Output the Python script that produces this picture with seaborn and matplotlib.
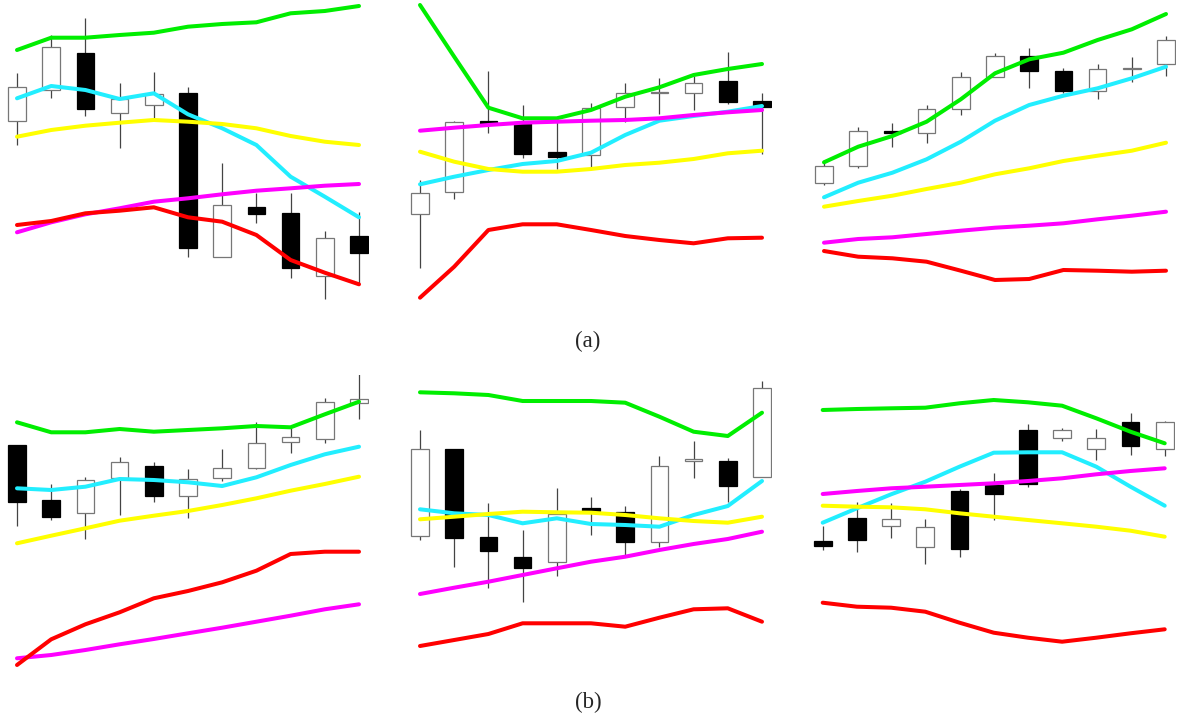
import numpy as np
import matplotlib
matplotlib.use("Agg")
import matplotlib.pyplot as plt
import seaborn as sns

# ---- panel (a) left ----
a1_open = [179, 210, 247.3, 186.7, 195, 206.7, 42.7, 92.7, 87.3, 24.3, 64]
a1_close = [213.3, 253.3, 190.7, 201, 205.7, 51.7, 94.7, 86, 32.3, 61.7, 47.3]
a1_high = [227.3, 265, 282.3, 216.7, 228.3, 213.3, 136.7, 107.3, 107.3, 69, 88.3]
a1_low = [155, 201.7, 184.3, 152.3, 181.7, 43.3, 42.7, 76.7, 22.3, 1, 16.7]
a1_green = [250, 262.3, 262.3, 265, 267.3, 273.3, 276, 277.7, 286.7, 289, 294]
a1_cyan = [201.7, 214, 210, 201, 206.7, 185.7, 171.7, 155, 123.3, 103.3, 82.7]
a1_yellow = [163.3, 170, 174.3, 177.3, 180, 178.3, 176, 171.7, 164, 158.3, 155]
a1_magenta = [67.7, 77.7, 85.7, 91.7, 98.3, 101.7, 105.7, 109.3, 111.7, 114.3, 116]
a1_red = [75, 79, 86.7, 89.3, 92.7, 82.7, 78.3, 65, 40, 27.3, 15.7]

# ---- panel (a) middle ----
a2_open = [85.7, 107.7, 179.3, 178.3, 148.3, 145, 192.7, 206.7, 207.3, 219.3, 199]
a2_close = [107.3, 177.7, 176, 146, 143.3, 191.7, 206.7, 208.3, 216.7, 198.3, 193.3]
a2_high = [120, 179.3, 229, 195, 183.3, 197.3, 216.7, 221.7, 224, 247.7, 207.3]
a2_low = [32.3, 101, 166.7, 141.7, 130.7, 133.3, 177.7, 186, 190, 195.7, 146]
a2_green = [295, 243.3, 192.3, 181.7, 181.7, 190, 203.3, 212.7, 225, 231, 236]
a2_cyan = [115.7, 123.3, 130, 136, 139, 147.3, 165, 179.3, 184, 188.3, 194]
a2_yellow = [148.3, 138.3, 131, 128.3, 128.3, 131, 135, 137.3, 141, 146.7, 149.3]
a2_magenta = [169.3, 172.3, 175, 177.3, 178.3, 179.3, 180, 181.7, 185, 187.7, 190]
a2_red = [2.3, 33.3, 70, 75.7, 75.7, 70, 64, 60, 56.7, 61.7, 62.3]

# ---- panel (a) right ----
a3_open = [116.7, 134, 169, 166.7, 190.7, 223.3, 244, 229, 209, 231, 235.7]
a3_close = [134.3, 169, 167.3, 190.7, 223.3, 244, 229, 209, 231, 232.3, 260]
a3_high = [140, 173.3, 177.3, 195, 228.3, 246.7, 251.7, 231.7, 236, 242.7, 264]
a3_low = [115, 131.7, 153.3, 157.3, 185, 222.7, 211.7, 206.7, 200.7, 218.3, 224]
a3_green = [137.7, 153.3, 164, 178.3, 200.7, 226.7, 240.7, 247.3, 260, 270.7, 286]
a3_cyan = [102.7, 117.3, 127.3, 140.7, 158.3, 179.3, 195, 204.3, 211.7, 221.7, 233.3]
a3_yellow = [93.3, 99, 104.3, 111, 117.3, 125.7, 131.7, 139, 144.3, 149.3, 157.3]
a3_magenta = [57.3, 61, 62.7, 66, 69.3, 72.3, 74.3, 76.7, 80.7, 84.3, 88.3]
a3_red = [49, 43.3, 41.7, 38.3, 29.3, 20, 21, 30, 29.3, 28.3, 29.3]

# ---- panel (b) left ----
b1_open = [225, 170, 156.7, 191.7, 204.3, 174, 191.7, 201.7, 228.3, 231, 266.7]
b1_close = [167.7, 153.3, 190, 208.3, 174, 191, 201.7, 226.7, 232.7, 267.7, 270.7]
b1_high = [225, 185.7, 192.7, 213.3, 207.7, 200.7, 220.7, 247.7, 241.7, 271.7, 295.7]
b1_low = [144.3, 150, 130.7, 155, 168.3, 152.3, 189.3, 201, 217.3, 227.3, 250.7]
b1_green = [247.7, 237.7, 237.7, 241, 238.3, 240, 241.7, 244, 242.7, 255.7, 268.3]
b1_cyan = [181.7, 180, 183.3, 191, 190, 187.7, 184, 192.7, 205, 215.7, 223.3]
b1_yellow = [126.7, 134.3, 141.7, 149.3, 154.3, 159, 165, 171.7, 179.3, 186, 193.3]
b1_magenta = [11.7, 15, 20, 25.7, 31, 36.7, 42.3, 48.3, 54.3, 60.7, 65.7]
b1_red = [5, 30.7, 45.7, 57.7, 71.7, 79, 87.7, 99.3, 116, 118.3, 118.3]

# ---- panel (b) middle ----
b2_open = [134.3, 221, 133.3, 112.7, 108.3, 162.3, 158.3, 128.3, 209.3, 209.3, 193.3]
b2_close = [221, 132.3, 119, 101.7, 155.7, 159.3, 128.3, 204.3, 210.7, 184, 281.7]
b2_high = [240, 221, 167.3, 140, 181.7, 173.3, 164, 214, 229, 211.7, 289]
b2_low = [130, 103.3, 81.7, 67.7, 94.3, 135, 115, 123.3, 191.7, 168.3, 192.7]
b2_green = [277.7, 276.7, 275, 269, 269, 269, 267.3, 253.3, 238.3, 234, 257.3]
b2_cyan = [160.7, 156.7, 155, 146.7, 151.7, 146, 145, 143.3, 155, 164, 189]
b2_yellow = [150.7, 153.3, 156, 158.3, 157.7, 157.3, 155, 151.7, 149, 147.3, 153.3]
b2_magenta = [76, 82.3, 88.3, 95, 101.7, 108.3, 113.3, 120, 126, 131, 138.3]
b2_red = [24, 30, 36, 46.7, 46.7, 46.7, 43.3, 52.3, 60.7, 61.7, 48.3]

# ---- panel (b) right ----
b3_open = [129, 152.3, 144, 122.7, 179.3, 185, 240, 231.7, 220.7, 248.3, 221]
b3_close = [124, 130, 151, 142.7, 121, 175.7, 186, 240, 231.7, 224, 248.3]
b3_high = [144, 168.3, 167.3, 150.7, 181, 196.7, 246, 241.7, 241, 257.3, 249.3]
b3_low = [120, 117.7, 131.7, 106, 113.3, 150, 183.3, 229, 210, 215, 214]
b3_green = [260, 261, 261.7, 262.3, 266.7, 270, 267.7, 264.3, 251.7, 238.3, 226.7]
b3_cyan = [147.3, 161.7, 175.7, 188.3, 203.3, 217.3, 217.7, 217.7, 203.3, 183.3, 164.3]
b3_yellow = [164.3, 163.3, 162.7, 160.7, 156.7, 153.3, 150, 146.7, 143.3, 139.3, 133.3]
b3_magenta = [176, 179, 181.7, 183.3, 185, 186.7, 189, 191.7, 195.7, 199, 201.7]
b3_red = [67.3, 63.3, 62.3, 58.3, 47.3, 37.3, 32.3, 28.3, 32.3, 36.7, 40.7]

line_colors = {
    "green": "#00ee00",
    "cyan": "#22eeff",
    "yellow": "#ffff00",
    "magenta": "#ff00ff",
    "red": "#ff0000",
}

panels = [
    (a1_open, a1_close, a1_high, a1_low,
     [a1_green, a1_cyan, a1_yellow, a1_magenta, a1_red]),
    (a2_open, a2_close, a2_high, a2_low,
     [a2_green, a2_cyan, a2_yellow, a2_magenta, a2_red]),
    (a3_open, a3_close, a3_high, a3_low,
     [a3_green, a3_cyan, a3_yellow, a3_magenta, a3_red]),
    (b1_open, b1_close, b1_high, b1_low,
     [b1_green, b1_cyan, b1_yellow, b1_magenta, b1_red]),
    (b2_open, b2_close, b2_high, b2_low,
     [b2_green, b2_cyan, b2_yellow, b2_magenta, b2_red]),
    (b3_open, b3_close, b3_high, b3_low,
     [b3_green, b3_cyan, b3_yellow, b3_magenta, b3_red]),
]

sns.set_style("white")

W, H = 1177, 719
fig = plt.figure(figsize=(W / 100, H / 100), dpi=100)

step = 34.2
first_centres = [17, 420, 824, 17, 420, 822.7]


def draw_candles(ax, o, c, h, l):
    x = np.arange(len(o))
    o = np.array(o)
    c = np.array(c)
    up = c >= o
    ax.vlines(x, l, h, color="#444444", lw=0.9, zorder=1)
    bottom = np.minimum(o, c)
    height = np.maximum(np.abs(c - o), 1.0)
    ax.bar(x[up], height[up], bottom=bottom[up], width=0.52,
           color="white", edgecolor="#777777", lw=0.9, zorder=2)
    ax.bar(x[~up], height[~up], bottom=bottom[~up], width=0.52,
           color="black", edgecolor="black", lw=0.9, zorder=2)


for i, (o, c, h, l, lines) in enumerate(panels):
    top_row = i < 3
    left = (first_centres[i] - 0.5 * step) / W
    width = 10.8 * step / W
    if top_row:
        ax = fig.add_axes([left, (H - 300) / H, width, 300 / H])
        ax.set_ylim(0, 300)
    else:
        ax = fig.add_axes([left, (H - 670) / H, width, 295 / H])
        ax.set_ylim(0, 295)
    ax.set_xlim(-0.5, 10.3)

    draw_candles(ax, o, c, h, l)
    x = np.arange(len(o))
    for vals, name in zip(lines, ["green", "cyan", "yellow", "magenta", "red"]):
        sns.lineplot(x=x, y=vals, color=line_colors[name], lw=2.9,
                     ax=ax, zorder=3)
    ax.set_axis_off()

serif = ["Liberation Serif", "DejaVu Serif"]
fig.text(588 / W, 1 - 341 / H, "(a)", ha="center", va="center",
         fontsize=16.5, family=serif)
fig.text(588 / W, 1 - 702 / H, "(b)", ha="center", va="center",
         fontsize=16.5, family=serif)

fig.savefig("out.png", dpi=100)
